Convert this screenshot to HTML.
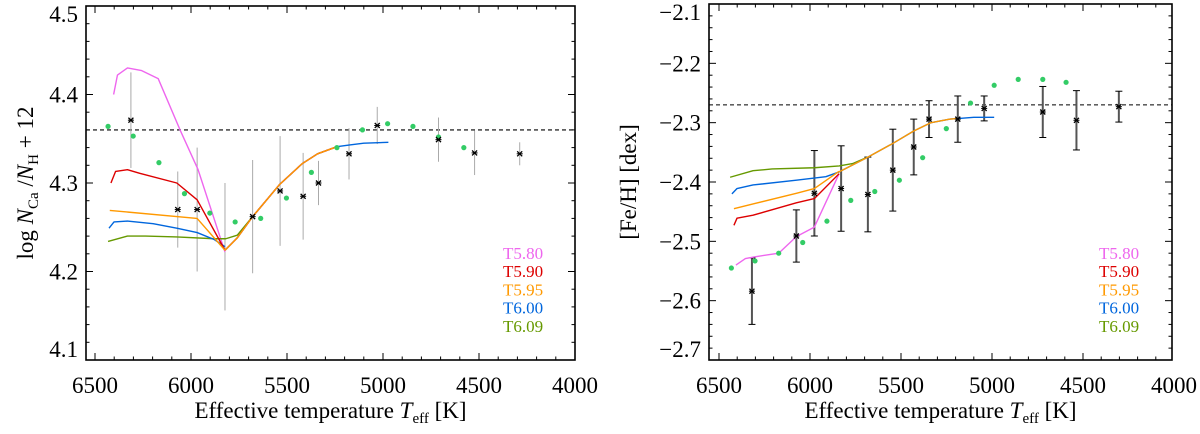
<!DOCTYPE html>
<html><head><meta charset="utf-8"><style>
html,body{margin:0;padding:0;background:#fff;}
svg{display:block;font-family:"Liberation Serif",serif;}
</style></head><body>
<svg id="chart" width="1200" height="434" viewBox="0 0 1200 434" xmlns="http://www.w3.org/2000/svg"></svg>
<script>
// ---------- Left panel data (Ca) ----------
const caObsT   = [6313,6069,5968,5823,5679,5536,5416,5336,5177,5030,4711,4523,4288];
const caObsV   = [4.371,4.270,4.270,4.228,4.262,4.291,4.285,4.300,4.333,4.365,4.349,4.334,4.333];
const caObsErr = [0.054,0.043,0.070,0.072,0.064,0.062,0.049,0.025,0.029,0.021,0.025,0.025,0.013];
const caGreenT = [6432,6301,6167,6034,5902,5770,5637,5503,5373,5240,5107,4976,4844,4711,4579];
const caGreenV = [4.364,4.353,4.323,4.288,4.266,4.256,4.260,4.283,4.312,4.340,4.360,4.367,4.364,4.352,4.340];
const caRiseT = [5823,5759,5679,5540,5420,5341,5240];
const caRiseV = [4.224,4.238,4.262,4.298,4.322,4.333,4.341];
const caT580T = [6403,6383,6331,6257,6171,6057,5963,5823];
const caT580V = [4.400,4.422,4.430,4.427,4.418,4.360,4.315,4.222];
const caT590T = [6417,6393,6331,6267,6074,5968,5823];
const caT590V = [4.300,4.313,4.315,4.311,4.300,4.281,4.224];
const caT595T = [6423,5968,5823];
const caT595V = [4.269,4.260,4.224];
const caT600T = [6427,6401,6331,6197,6074,5968,5878,5823];
const caT600V = [4.249,4.256,4.257,4.254,4.249,4.244,4.236,4.228];
const caT600TailT = [5240,5173,5100,4972];
const caT600TailV = [4.341,4.343,4.345,4.346];
const caT609T = [6432,6331,6237,6074,5878,5819,5759,5679];
const caT609V = [4.234,4.240,4.240,4.239,4.237,4.237,4.241,4.262];
const caSolar = 4.36;
const caYTicks = [4.1,4.2,4.3,4.4,4.5];
const caYLabels = ["4.1","4.2","4.3","4.4","4.5"];

// ---------- Right panel data (Fe) ----------
const feObsT   = [6319,6075,5976,5829,5682,5545,5430,5346,5188,5043,4721,4536,4303];
const feObsV   = [-2.584,-2.491,-2.419,-2.411,-2.421,-2.380,-2.341,-2.294,-2.294,-2.276,-2.282,-2.296,-2.273];
const feObsErr = [0.056,0.044,0.072,0.072,0.063,0.069,0.047,0.031,0.039,0.021,0.043,0.050,0.026];
const feGreenT = [6432,6302,6172,6040,5907,5776,5644,5509,5381,5251,5118,4988,4856,4721,4593];
const feGreenV = [-2.545,-2.533,-2.520,-2.502,-2.466,-2.431,-2.416,-2.397,-2.359,-2.310,-2.267,-2.237,-2.227,-2.227,-2.232];
const feRiseT = [5840,5682,5545,5430,5335,5230,5188];
const feRiseV = [-2.383,-2.358,-2.335,-2.314,-2.300,-2.294,-2.293];
const feT580T = [6407,6355,6302,6172,6075,5976,5840];
const feT580V = [-2.540,-2.529,-2.526,-2.520,-2.492,-2.476,-2.386];
const feT590T = [6418,6401,6313,6075,5976,5840];
const feT590V = [-2.473,-2.461,-2.456,-2.435,-2.428,-2.386];
const feT595T = [6418,6313,6075,5976,5840];
const feT595V = [-2.445,-2.437,-2.419,-2.411,-2.382];
const feT600T = [6429,6401,6313,6075,5913,5840];
const feT600V = [-2.420,-2.411,-2.405,-2.397,-2.391,-2.383];
const feT600TailT = [5188,5100,4988];
const feT600TailV = [-2.293,-2.291,-2.291];
const feT609T = [6439,6313,6208,5976,5840,5766,5682];
const feT609V = [-2.392,-2.381,-2.378,-2.376,-2.373,-2.369,-2.358];
const feSolar = -2.27;
const feYTicks = [-2.7,-2.6,-2.5,-2.4,-2.3,-2.2,-2.1];
const feYLabels = ["\u22122.7","\u22122.6","\u22122.5","\u22122.4","\u22122.3","\u22122.2","\u22122.1"];

const xTicks = [6500,6000,5500,5000,4500,4000];
const xLabels = ["6500","6000","5500","5000","4500","4000"];
const legendNames = ["T5.80","T5.90","T5.95","T6.00","T6.09"];

const COL = {m:"#ee66ee", r:"#dd0000", o:"#ff9900", b:"#0066dd", g:"#669900", dot:"#33cc66"};
const NS = "http://www.w3.org/2000/svg";
const svg = document.getElementById("chart");
function mk(tag, attrs, parent){const e=document.createElementNS(NS,tag);for(const k in attrs)e.setAttribute(k,attrs[k]);(parent||svg).appendChild(e);return e;}

function panel(cfg){
  const g = mk("g",{});
  
  
  const X = t => cfg.x0 + (cfg.t0 - t) * cfg.xs;
  const Y = v => cfg.yBot - (v - cfg.vMin) / (cfg.vMax - cfg.vMin) * (cfg.yBot - cfg.yTop);
  const L=cfg.left,R=cfg.right,T=cfg.yTop,B=cfg.yBot;
  const dl = mk("line",{x1:L,x2:R,y1:Y(cfg.solar),y2:Y(cfg.solar),stroke:"#000","stroke-width":1.1,"stroke-dasharray":"4,3"},g);
  
  
  cfg.obsT.forEach((t,i)=>{
    const x=X(t), y1=Y(cfg.obsV[i]+cfg.obsE[i]), y2=Y(cfg.obsV[i]-cfg.obsE[i]);
    const e=mk("line",{x1:x,x2:x,y1:y1,y2:y2,stroke:cfg.errCol,"stroke-width":cfg.errW},g);
    
    
    if(cfg.caps){
      mk("line",{x1:x-3.5,x2:x+3.5,y1:y1,y2:y1,stroke:"#000","stroke-width":1},g);
      mk("line",{x1:x-3.5,x2:x+3.5,y1:y2,y2:y2,stroke:"#000","stroke-width":1},g);
    }
  });
  cfg.curves.forEach(c=>{
    const p=mk("polyline",{points:c.t.map((t,i)=>X(t)+","+Y(c.v[i])).join(" "),fill:"none",stroke:c.col,"stroke-width":1.4,"stroke-linejoin":"round"},g);
    
    
  });
  cfg.gT.forEach((t,i)=>{
    const c=mk("circle",{cx:X(t),cy:Y(cfg.gV[i]),r:2.6,fill:COL.dot},g);
    
    
  });
  cfg.obsT.forEach((t,i)=>{
    const x=X(t), y=Y(cfg.obsV[i]);
    if(cfg.hideStar && cfg.hideStar.includes(i)) return;
    const s=mk("g",{},g);
    
    
    mk("line",{x1:x-2.5,x2:x+2.5,y1:y-2.5,y2:y+2.5,stroke:"#000","stroke-width":1.3},s);
    mk("line",{x1:x-2.5,x2:x+2.5,y1:y+2.5,y2:y-2.5,stroke:"#000","stroke-width":1.3},s);
    mk("line",{x1:x-3,x2:x+3,y1:y,y2:y,stroke:"#000","stroke-width":1},s);
  });
  const fr=mk("rect",{x:L,y:T,width:R-L,height:B-T,fill:"none",stroke:"#000","stroke-width":1.6},g);
  
  
  for(let t=6600;t>=3900;t-=100){
    const x=X(t); if(x<L+1||x>R-1) continue;
    const len=(t%500===0)?7:3.5;
    mk("line",{x1:x,x2:x,y1:B,y2:B-len,stroke:"#000","stroke-width":1},g);
    mk("line",{x1:x,x2:x,y1:T,y2:T+len,stroke:"#000","stroke-width":1},g);
  }
  xTicks.forEach((t,i)=>{
    const tx=mk("text",{x:X(t),y:393,"font-size":23,"text-anchor":"middle"},g);
    tx.textContent=xLabels[i];
    
    
  });
  const step=0.02;
  for(let k=0;;k++){
    const v=cfg.vMin+k*step; if(v>cfg.vMax+1e-6) break;
    const y=Y(v); const major=Math.abs(Math.round(v*10)-v*10)<1e-6;
    const len=major?7:3.5;
    mk("line",{x1:L,x2:L+len,y1:y,y2:y,stroke:"#000","stroke-width":1},g);
    mk("line",{x1:R,x2:R-len,y1:y,y2:y,stroke:"#000","stroke-width":1},g);
  }
  cfg.yTicks.forEach((v,i)=>{
    let y=Y(v)+8;
    y=Math.max(y,T+16); y=Math.min(y,B-3);
    const tx=mk("text",{x:L-8,y:y,"font-size":23,"text-anchor":"end"},g);
    tx.textContent=cfg.yLabels[i];
    
    
  });
  const xt=mk("text",{x:(L+R)/2,y:418,"font-size":23,"text-anchor":"middle"},g);
  xt.innerHTML='Effective temperature <tspan font-style="italic">T</tspan><tspan font-size="15" dy="5">eff</tspan><tspan dy="-5"> [K]</tspan>';
  
  
  const yt=mk("text",{transform:`translate(${cfg.ytX},${(T+B)/2}) rotate(-90)`,"font-size":23,"text-anchor":"middle"},g);
  yt.innerHTML=cfg.yTitle;
  
  
  const lc=[COL.m,COL.r,COL.o,COL.b,COL.g];
  legendNames.forEach((n,i)=>{
    const tx=mk("text",{x:cfg.legX,y:259+i*18.2,"font-size":17,fill:lc[i]},g);
    tx.textContent=n;
    
    
  });
}

panel({name:"calcium-panel",left:86,right:575,yTop:6,yBot:360,x0:95,t0:6500,xs:0.192,vMin:4.1,vMax:4.5,
  solar:caSolar,obsT:caObsT,obsV:caObsV,obsE:caObsErr,errCol:"#aaaaaa",errW:1,caps:false,hideStar:[3],
  gT:caGreenT,gV:caGreenV,yTicks:caYTicks,yLabels:caYLabels,ytX:33,legX:503,
  yTitle:'log <tspan font-style="italic">N</tspan><tspan font-size="15" dy="5">Ca</tspan><tspan dy="-5"> /</tspan><tspan font-style="italic">N</tspan><tspan font-size="15" dy="5">H</tspan><tspan dy="-5"> + 12</tspan>',
  curves:[
    {name:"curve-t580",t:caT580T,v:caT580V,col:COL.m},
    {name:"curve-t580-rise",t:caRiseT,v:caRiseV,col:COL.m},
    {name:"curve-t609",t:caT609T,v:caT609V,col:COL.g},
    {name:"curve-t600",t:caT600T,v:caT600V,col:COL.b},
    {name:"curve-t600-tail",t:caT600TailT,v:caT600TailV,col:COL.b},
    {name:"curve-t600-rise",t:caRiseT,v:caRiseV,col:COL.b},
    {name:"curve-t590",t:caT590T,v:caT590V,col:COL.r},
    {name:"curve-t590-rise",t:caRiseT,v:caRiseV,col:COL.r},
    {name:"curve-t595",t:caT595T,v:caT595V,col:COL.o},
    {name:"curve-t595-rise",t:caRiseT,v:caRiseV,col:COL.o}
  ]});

panel({name:"iron-panel",left:709,right:1172,yTop:4,yBot:360,x0:719,t0:6500,xs:0.182,vMin:-2.7,vMax:-2.1,
  solar:feSolar,obsT:feObsT,obsV:feObsV,obsE:feObsErr,errCol:"#555555",errW:2,caps:true,hideStar:[],
  gT:feGreenT,gV:feGreenV,yTicks:feYTicks,yLabels:feYLabels,ytX:636,legX:1099,
  yTitle:'[Fe/H] [dex]',
  curves:[
    {name:"curve-t609",t:feT609T,v:feT609V,col:COL.g},
    {name:"curve-t600",t:feT600T,v:feT600V,col:COL.b},
    {name:"curve-t600-rise",t:feRiseT,v:feRiseV,col:COL.b},
    {name:"curve-t600-tail",t:feT600TailT,v:feT600TailV,col:COL.b},
    {name:"curve-t580",t:feT580T,v:feT580V,col:COL.m},
    {name:"curve-t590",t:feT590T,v:feT590V,col:COL.r},
    {name:"curve-t595",t:feT595T,v:feT595V,col:COL.o},
    {name:"curve-t595-rise",t:feRiseT,v:feRiseV,col:COL.o}
  ]});
</script>
</body></html>
